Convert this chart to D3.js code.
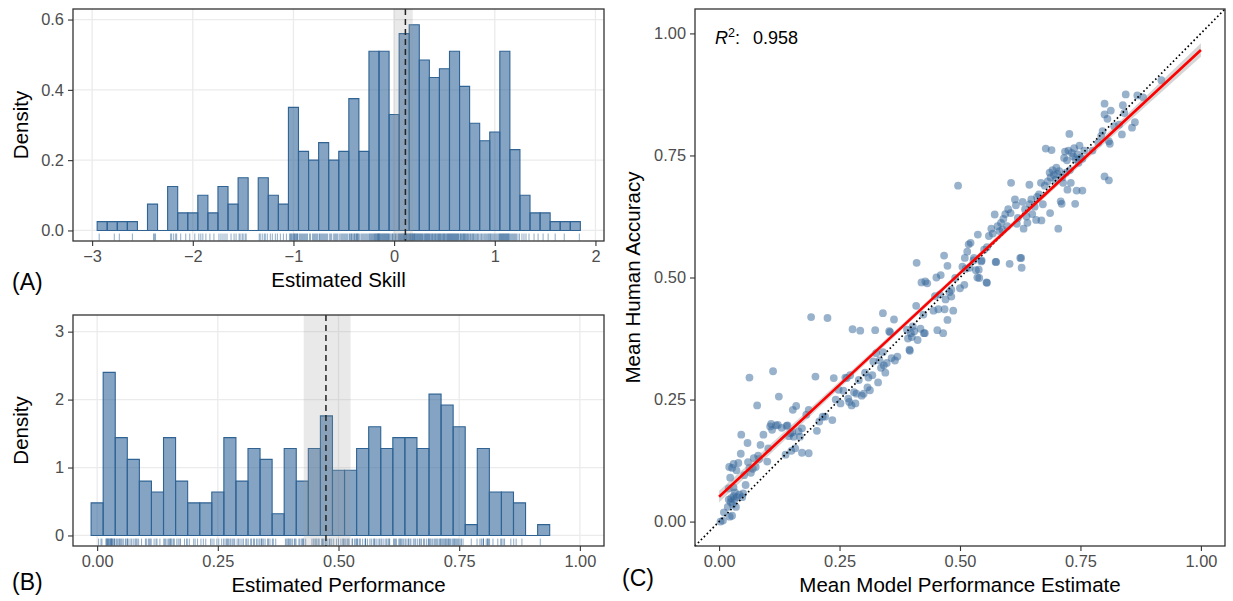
<!DOCTYPE html>
<html><head><meta charset="utf-8">
<script src="https://cdn.jsdelivr.net/npm/d3@7"></script>
<style>
body{margin:0;background:#fff}
svg{display:block}
text{font-family:"Liberation Sans",Arial,Helvetica,sans-serif}
</style>
</head><body>
<svg id="chart" width="1233" height="601"></svg>
<script>
// ---------------- DATA ----------------
// Panel A: histogram of estimated skill (density per bin)
const skillBinStart = -2.95;
const skillBinWidth = 0.1;
const skillDensity = [0.025,0.025,0.025,0.025,0,0.075,0,0.125,0.05,0.05,0.10,0.05,0.125,0.075,0.15,0,0.15,0.10,0.075,0.35,0.225,0.20,0.25,0.20,0.225,0.375,0.225,0.51,0.51,0.33,0.56,0.585,0.485,0.435,0.46,0.51,0.41,0.305,0.255,0.28,0.51,0.23,0.10,0.05,0.05,0.025,0.025,0.025];
const skillMean = 0.112;
const skillInterval = [-0.005, 0.185];
const skillXTicks = [-3,-2,-1,0,1,2];
const skillYTicks = [0,0.2,0.4,0.6];
const skillRug = [
-2.93,-2.78,-2.73,-2.60,
-2.39,-2.38,-2.37,
-2.22,-2.21,-2.19,-2.17,-2.16,
-2.12,-2.07,-2.03,-1.98,
-1.94,-1.92,-1.90,-1.87,-1.83,-1.79,
-1.74,-1.72,-1.70,-1.68,-1.66,-1.62,-1.59,-1.57,
-1.54,-1.53,-1.51,-1.50,-1.48,-1.47,
-1.34,-1.33,-1.31,-1.29,-1.28,-1.26,-1.23,-1.21,-1.18,-1.16,-1.13,-1.10,-1.07,
-1.04,-1.03,-1.025,-1.02,-1.01,-1.00,-0.995,-0.99,-0.985,-0.98,-0.97,-0.965,-0.96,-0.955,
-0.94,-0.93,-0.92,-0.91,-0.90,-0.89,-0.88,-0.87,-0.86,
-0.84,-0.83,-0.81,-0.80,-0.79,-0.78,-0.77,-0.76,
-0.745,-0.74,-0.73,-0.72,-0.71,-0.70,-0.69,-0.68,-0.67,-0.66,
-0.64,-0.63,-0.62,-0.60,-0.59,-0.58,-0.57,-0.56,
-0.545,-0.53,-0.52,-0.51,-0.50,-0.49,-0.48,-0.47,-0.46,
-0.445,-0.44,-0.43,-0.425,-0.42,-0.41,-0.40,-0.395,-0.39,-0.38,-0.375,-0.37,-0.365,-0.36,-0.355,
-0.345,-0.33,-0.32,-0.31,-0.30,-0.29,-0.28,-0.27,-0.26,
-0.25,-0.24,-0.24,-0.23,-0.22,-0.22,-0.21,-0.20,-0.20,-0.19,-0.19,-0.18,-0.18,-0.17,-0.17,-0.16,-0.16,-0.16,-0.155,-0.15,
-0.145,-0.14,-0.14,-0.13,-0.13,-0.12,-0.12,-0.11,-0.11,-0.10,-0.10,-0.09,-0.09,-0.08,-0.08,-0.07,-0.07,-0.06,-0.06,-0.055,
-0.045,-0.04,-0.03,-0.02,-0.015,-0.01,0.00,0.01,0.015,0.02,0.03,0.04,0.045,
0.05,0.055,0.06,0.065,0.07,0.075,0.08,0.085,0.09,0.095,0.10,0.10,0.105,0.11,0.115,0.12,0.12,0.125,0.13,0.135,0.14,0.145,
0.15,0.155,0.16,0.16,0.165,0.17,0.175,0.18,0.18,0.185,0.19,0.195,0.20,0.20,0.205,0.21,0.215,0.22,0.225,0.23,0.235,0.24,0.245,
0.25,0.255,0.26,0.265,0.27,0.275,0.28,0.285,0.29,0.30,0.305,0.31,0.315,0.32,0.325,0.33,0.335,0.34,0.345,
0.35,0.355,0.36,0.37,0.375,0.38,0.385,0.39,0.40,0.405,0.41,0.415,0.42,0.43,0.435,0.44,0.445,
0.45,0.455,0.46,0.465,0.47,0.48,0.485,0.49,0.495,0.50,0.505,0.51,0.52,0.525,0.53,0.535,0.54,0.545,
0.55,0.555,0.56,0.565,0.57,0.575,0.58,0.585,0.59,0.595,0.60,0.605,0.61,0.615,0.62,0.625,0.63,0.635,0.64,0.645,
0.655,0.66,0.665,0.67,0.68,0.685,0.69,0.695,0.70,0.705,0.71,0.72,0.725,0.73,0.74,0.745,
0.755,0.76,0.77,0.78,0.785,0.79,0.80,0.81,0.82,0.83,0.835,0.845,
0.86,0.87,0.875,0.89,0.90,0.91,0.92,0.93,0.94,0.945,
0.955,0.96,0.97,0.98,0.99,1.00,1.01,1.02,1.03,1.04,1.045,
1.05,1.055,1.06,1.065,1.07,1.075,1.08,1.085,1.09,1.095,1.10,1.105,1.11,1.115,1.12,1.125,1.13,1.135,1.14,1.145,
1.155,1.165,1.175,1.185,1.195,1.205,1.215,1.23,1.245,
1.27,1.29,1.31,1.34,1.39,1.43,1.48,1.53,1.60,1.69,1.84
];

// Panel B: histogram of estimated performance
const perfBinStart = -0.0125;
const perfBinWidth = 0.025;
const perfDensity = [0.48,2.40,1.44,1.12,0.80,0.64,1.44,0.80,0.48,0.48,0.64,1.44,0.80,1.28,1.12,0.32,1.28,0.80,1.28,1.76,0.96,0.96,1.28,1.60,1.28,1.44,1.44,1.28,2.08,1.92,1.60,0.16,1.28,0.64,0.64,0.48,0,0.16];
const perfMean = 0.474;
const perfInterval = [0.428, 0.525];
const perfXTicks = [0,0.25,0.5,0.75,1];
const perfYTicks = [0,1,2,3];

// Panel C: model estimate (x) vs human accuracy (y)
const modelEstimate = [
0.003,0.008,0.010,0.018,0.020,0.022,0.024,0.025,0.027,0.028,0.030,0.032,0.033,0.020,0.030,0.021,0.027,0.030,0.036,0.023,0.037,0.035,
0.040,0.042,0.045,0.046,0.048,0.050,0.052,0.055,0.059,0.060,0.063,0.063,0.066,0.070,0.072,0.076,0.079,0.081,0.083,0.086,0.092,
0.100,0.102,0.106,0.108,0.110,0.112,0.118,0.122,0.124,0.130,0.138,0.140,0.142,0.145,0.148,0.150,0.152,0.153,0.155,0.158,0.160,
0.165,0.168,0.172,0.172,0.181,0.186,0.186,0.191,0.200,0.203,0.208,0.215,0.220,0.225,0.235,
0.238,0.242,0.248,0.252,0.258,0.262,0.265,0.268,0.270,0.272,0.275,0.277,0.280,0.283,0.285,0.290,0.293,0.296,0.300,0.303,0.308,0.310,
0.313,0.318,0.320,0.324,0.326,0.330,0.333,0.336,0.340,0.340,0.342,0.345,0.348,0.353,0.355,0.358,0.363,0.365,0.370,
0.390,0.392,0.395,0.396,0.398,0.400,0.402,0.405,0.409,0.410,0.412,0.418,0.420,0.424,0.425,0.427,0.428,0.432,0.445,0.448,0.451,0.453,0.455,0.458,0.460,
0.465,0.467,0.468,0.470,0.474,0.474,0.478,0.482,0.482,0.486,0.490,0.496,0.500,0.505,0.509,0.510,0.512,0.515,0.518,0.520,0.522,0.528,0.529,0.533,0.536,
0.537,0.539,0.540,0.544,0.545,0.550,0.555,0.556,0.556,0.560,0.565,0.568,0.572,0.574,0.575,0.578,0.582,0.585,0.588,0.590,0.594,0.598,0.600,0.603,0.605,0.606,
0.614,0.616,0.618,0.620,0.625,0.627,0.628,0.630,0.632,0.635,0.638,0.640,0.644,0.645,0.648,0.650,0.655,0.658,0.660,0.664,0.668,0.669,0.672,0.676,0.678,0.682,0.686,
0.687,0.688,0.690,0.692,0.695,0.698,0.700,0.702,0.704,0.706,0.709,0.711,0.712,0.714,0.716,0.718,0.720,0.722,0.723,0.725,0.727,0.728,0.730,0.732,0.735,0.737,0.739,0.740,0.742,0.744,0.746,0.748,0.750,0.754,0.754,0.758,
0.775,0.787,0.793,0.796,0.800,0.800,0.800,0.806,0.809,0.809,0.811,0.813,0.820,0.830,0.836,
0.838,0.841,0.844,0.857,0.863,0.868,0.880,0.918
];
const humanAccuracy = [
0.000,0.002,0.019,0.030,0.045,0.010,0.040,0.048,0.012,0.035,0.052,0.045,0.060,0.068,0.070,0.112,0.110,0.118,0.105,0.090,0.050,0.030,
0.120,0.055,0.139,0.178,0.050,0.058,0.095,0.075,0.161,0.122,0.295,0.110,0.100,0.108,0.130,0.112,0.238,0.135,0.128,0.157,0.178,
0.123,0.150,0.195,0.200,0.188,0.308,0.197,0.198,0.256,0.192,0.137,0.196,0.197,0.175,0.181,0.145,0.183,0.229,0.174,0.150,0.237,
0.185,0.174,0.141,0.191,0.219,0.140,0.229,0.419,0.297,0.186,0.205,0.215,0.215,0.417,0.208,
0.294,0.250,0.270,0.242,0.268,0.295,0.294,0.252,0.245,0.300,0.238,0.394,0.265,0.242,0.262,0.290,0.391,0.258,0.262,0.305,0.275,0.295,
0.269,0.300,0.328,0.392,0.345,0.285,0.330,0.315,0.347,0.427,0.320,0.305,0.325,0.390,0.388,0.335,0.414,0.330,0.338,
0.393,0.375,0.352,0.350,0.386,0.378,0.400,0.390,0.442,0.530,0.372,0.395,0.490,0.424,0.386,0.386,0.492,0.488,0.432,0.462,0.500,0.392,0.435,0.465,0.505,
0.386,0.545,0.435,0.455,0.413,0.524,0.470,0.461,0.475,0.432,0.499,0.688,0.478,0.522,0.485,0.540,0.518,0.553,0.568,0.520,0.571,0.535,0.540,0.515,0.500,
0.588,0.516,0.499,0.533,0.535,0.557,0.490,0.562,0.489,0.585,0.600,0.590,0.629,0.532,0.532,0.605,0.595,0.612,0.598,0.620,0.630,0.605,0.640,0.528,0.632,0.694,
0.660,0.648,0.610,0.622,0.540,0.540,0.520,0.655,0.600,0.640,0.625,0.612,0.690,0.650,0.660,0.630,0.645,0.618,0.665,0.670,0.694,0.617,0.650,0.688,0.764,0.697,0.715,
0.632,0.705,0.761,0.720,0.710,0.700,0.725,0.712,0.600,0.718,0.656,0.651,0.705,0.694,0.745,0.758,0.715,0.740,0.680,0.760,0.794,0.720,0.694,0.755,0.748,0.765,0.651,0.742,0.678,0.752,0.735,0.770,0.745,0.743,0.678,0.760,
0.760,0.776,0.790,0.800,0.856,0.707,0.834,0.825,0.779,0.699,0.774,0.842,0.810,0.813,0.793,
0.853,0.837,0.875,0.807,0.818,0.873,0.869,0.904
];
// fitted regression line with confidence band, read at these x values
const fitX = [0, 0.25, 0.5, 0.75, 1.0];
const fitY = [0.051, 0.280, 0.509, 0.737, 0.966];
const fitLower = [0.039, 0.273, 0.504, 0.730, 0.952];
const fitUpper = [0.063, 0.287, 0.514, 0.744, 0.980];
const rSquared = "0.958";
const unitTicks = [0,0.25,0.5,0.75,1];

// ---------------- DRAWING ----------------
const svg = d3.select("#chart");
const FONT_TICK = 16.4, FONT_TITLE = 20.5;
const barFill = "#336699", barStroke = "#2f6394";
const pointColor = "#336699";

function styleAxis(g) {
  g.select(".domain").remove();
  g.selectAll(".tick line").attr("stroke", "#333333").attr("stroke-width", 1.1);
  g.selectAll(".tick text").attr("fill", "#4d4d4d").style("font-size", FONT_TICK + "px")
    .style("font-family", '"Liberation Sans",Arial,Helvetica,sans-serif');
}

function panelFrame(b, withGrid, xs, ys, xt, yt) {
  svg.append("rect").attr("x", b.l).attr("y", b.t).attr("width", b.r - b.l).attr("height", b.b - b.t).attr("fill", "#fff");
  if (withGrid) {
    const g = svg.append("g");
    g.selectAll("line.vx").data(xt).join("line")
      .attr("x1", d => xs(d)).attr("x2", d => xs(d)).attr("y1", b.t).attr("y2", b.b)
      .attr("stroke", "#ebebeb").attr("stroke-width", 1.3);
    g.selectAll("line.hy").data(yt).join("line")
      .attr("y1", d => ys(d)).attr("y2", d => ys(d)).attr("x1", b.l).attr("x2", b.r)
      .attr("stroke", "#ebebeb").attr("stroke-width", 1.3);
  }
}
function panelBorder(b) {
  svg.append("rect").attr("x", b.l).attr("y", b.t).attr("width", b.r - b.l).attr("height", b.b - b.t)
    .attr("fill", "none").attr("stroke", "#333333").attr("stroke-width", 1.3);
}
function axes(b, xs, ys, xt, yt, xf, yf) {
  const gx = svg.append("g").attr("transform", `translate(0,${b.b})`)
    .call(d3.axisBottom(xs).tickValues(xt).tickFormat(xf).tickSize(5).tickPadding(4));
  styleAxis(gx);
  const gy = svg.append("g").attr("transform", `translate(${b.l},0)`)
    .call(d3.axisLeft(ys).tickValues(yt).tickFormat(yf).tickSize(5).tickPadding(4));
  styleAxis(gy);
}
function title(txt, x, y, rot) {
  const t = svg.append("text").attr("text-anchor", "middle").attr("fill", "#000")
    .style("font-size", FONT_TITLE + "px").text(txt);
  if (rot) t.attr("transform", `translate(${x},${y}) rotate(-90)`);
  else t.attr("x", x).attr("y", y);
}
function label(txt, x, y) {
  svg.append("text").attr("x", x).attr("y", y).style("font-size", "23px").attr("fill", "#000").text(txt);
}

function histogramPanel(b, xDomain, yDomain, binStart, binWidth, dens, rug, meanV, interval, xt, yt, xf, yf) {
  const xs = d3.scaleLinear().domain(xDomain).range([b.l, b.r]);
  const ys = d3.scaleLinear().domain(yDomain).range([b.b, b.t]);
  panelFrame(b, true, xs, ys, xt, yt);
  const bins = dens.map((d, i) => ({x0: binStart + i * binWidth, x1: binStart + (i + 1) * binWidth, d}));
  svg.append("g").selectAll("path").data(bins).join("path")
    .attr("d", d => {
      const x0 = xs(d.x0), x1 = xs(d.x1), y0 = ys(0), y1 = ys(d.d);
      return `M${x0},${y0}H${x1}V${y1}H${x0}Z`;
    })
    .attr("fill", barFill).attr("fill-opacity", 0.6)
    .attr("stroke", barStroke).attr("stroke-width", 1.1);
  // rug
  const rugLen = (b.b - b.t) * 0.03;
  svg.append("g").selectAll("line").data(rug).join("line")
    .attr("x1", d => xs(d)).attr("x2", d => xs(d))
    .attr("y1", b.b - 0.5).attr("y2", b.b - 0.5 - rugLen)
    .attr("stroke", "#336699").attr("stroke-opacity", 0.55).attr("stroke-width", 1);
  // interval band
  svg.append("rect").attr("x", xs(interval[0])).attr("width", xs(interval[1]) - xs(interval[0]))
    .attr("y", b.t).attr("height", b.b - b.t).attr("fill", "#9a9a9a").attr("fill-opacity", 0.22);
  // mean line
  svg.append("line").attr("x1", xs(meanV)).attr("x2", xs(meanV)).attr("y1", b.t).attr("y2", b.b)
    .attr("stroke", "#222").attr("stroke-width", 1.5).attr("stroke-dasharray", "6,4");
  panelBorder(b);
  axes(b, xs, ys, xt, yt, xf, yf);
}

// Panel A
const bA = {l: 73, r: 604, t: 9, b: 241};
histogramPanel(bA, [-3.19, 2.085], [-0.03, 0.63], skillBinStart, skillBinWidth, skillDensity, skillRug,
  skillMean, skillInterval, skillXTicks, skillYTicks, d3.format("d"), d3.format(".1f"));
title("Estimated Skill", (bA.l + bA.r) / 2, 287);
title("Density", 28, (bA.t + bA.b) / 2, true);
label("(A)", 12, 290);

// Panel B
const bB = {l: 73, r: 604, t: 315, b: 546};
histogramPanel(bB, [-0.05, 1.05], [-0.155, 3.245], perfBinStart, perfBinWidth, perfDensity, modelEstimate,
  perfMean, perfInterval, perfXTicks, perfYTicks, d3.format(".2f"), d3.format("d"));
title("Estimated Performance", (bB.l + bB.r) / 2, 592);
title("Density", 28, (bB.t + bB.b) / 2, true);
label("(B)", 12, 590);

// Panel C
const bC = {l: 695, r: 1225, t: 9, b: 546};
const xc = d3.scaleLinear().domain([-0.05, 1.05]).range([bC.l, bC.r]);
const yc = d3.scaleLinear().domain([-0.05, 1.05]).range([bC.b, bC.t]);
panelFrame(bC, false, xc, yc, unitTicks, unitTicks);
const pts = modelEstimate.map((x, i) => ({x, y: humanAccuracy[i]}));
svg.append("g").selectAll("circle").data(pts).join("circle")
  .attr("cx", d => xc(d.x)).attr("cy", d => yc(d.y)).attr("r", 3.9)
  .attr("fill", pointColor).attr("fill-opacity", 0.5);
// identity line
svg.append("line").attr("x1", xc(-0.05)).attr("y1", yc(-0.05)).attr("x2", xc(1.05)).attr("y2", yc(1.05))
  .attr("stroke", "#000").attr("stroke-width", 1.7).attr("stroke-dasharray", "1.6,2.6");
// confidence band + fit
const fit = fitX.map((x, i) => ({x, y: fitY[i], lo: fitLower[i], hi: fitUpper[i]}));
svg.append("path").datum(fit)
  .attr("d", d3.area().x(d => xc(d.x)).y0(d => yc(d.lo)).y1(d => yc(d.hi)).curve(d3.curveMonotoneX))
  .attr("fill", "#999").attr("fill-opacity", 0.4);
svg.append("path").datum(fit)
  .attr("d", d3.line().x(d => xc(d.x)).y(d => yc(d.y)))
  .attr("fill", "none").attr("stroke", "#ff0000").attr("stroke-width", 2.6);
panelBorder(bC);
axes(bC, xc, yc, unitTicks, unitTicks, d3.format(".2f"), d3.format(".2f"));
// R^2 annotation
const rt = svg.append("text").attr("x", 715).attr("y", 44).style("font-size", "18px").attr("fill", "#000");
rt.append("tspan").style("font-style", "italic").text("R");
rt.append("tspan").attr("dy", -7).style("font-size", "12.5px").text("2");
rt.append("tspan").attr("dy", 7).text(":");
svg.append("text").attr("x", 753).attr("y", 44).style("font-size", "18px").attr("fill", "#000").text(rSquared);
title("Mean Model Performance Estimate", (bC.l + bC.r) / 2, 592);
title("Mean Human Accuracy", 640, (bC.t + bC.b) / 2, true);
label("(C)", 622, 586);
</script>
</body></html>
